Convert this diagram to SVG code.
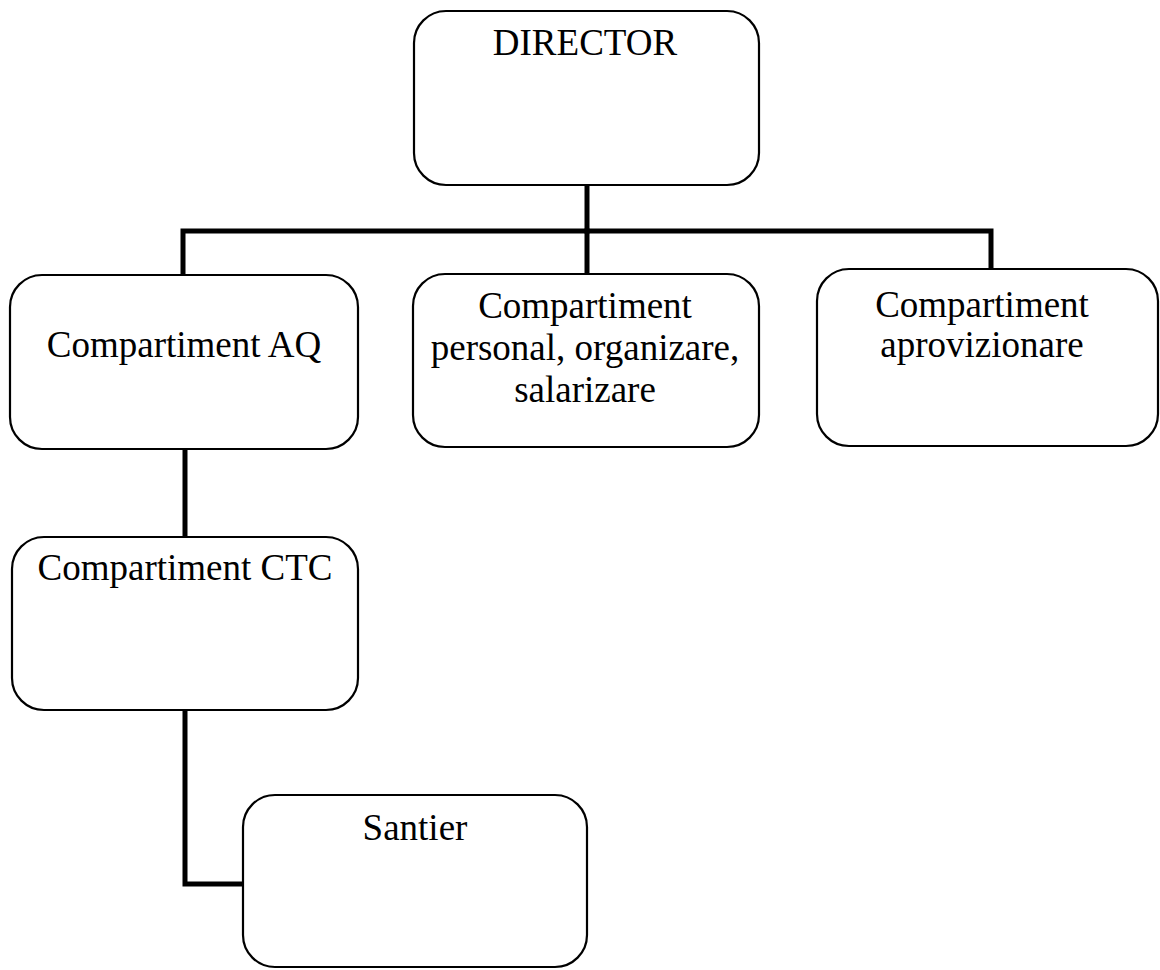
<svg xmlns="http://www.w3.org/2000/svg" width="1160" height="970" viewBox="0 0 1160 970">
  <style>
    .box { fill: #ffffff; stroke: #000000; stroke-width: 2.2; }
    .lbl { font-size: 37px; fill: #000000; text-anchor: middle; }
    .wire { fill: none; stroke: #000000; stroke-width: 5; stroke-linejoin: miter; stroke-linecap: square; }
  </style>
  <rect width="1160" height="970" fill="#ffffff"/>

  <!-- connectors -->
  <g id="connectors">
    <path class="wire" d="M587,186 V231"/>
    <path class="wire" d="M183,273 V231 H991 V268"/>
    <path class="wire" d="M587,231 V273"/>
    <path class="wire" d="M185,449 V536"/>
    <path class="wire" d="M185,711 V884 H242"/>
  </g>

  <g font-family="Liberation Serif, Tinos, Times New Roman, DejaVu Serif, serif">
    <g id="director">
      <rect class="box" x="414" y="11" width="345" height="174" rx="32" ry="32"/>
      <text class="lbl" x="585" y="55">DIRECTOR</text>
    </g>

    <g id="comp-aq">
      <rect class="box" x="10" y="275" width="348" height="174" rx="32" ry="32"/>
      <text class="lbl" x="184" y="357">Compartiment AQ</text>
    </g>

    <g id="comp-personal">
      <rect class="box" x="413" y="274" width="346" height="173" rx="32" ry="32"/>
      <text class="lbl" x="585" y="318">Compartiment</text>
      <text class="lbl" x="585" y="360">personal, organizare,</text>
      <text class="lbl" x="585" y="402">salarizare</text>
    </g>

    <g id="comp-aprovizionare">
      <rect class="box" x="817" y="269" width="341" height="177" rx="32" ry="32"/>
      <text class="lbl" x="982" y="317">Compartiment</text>
      <text class="lbl" x="982" y="357">aprovizionare</text>
    </g>

    <g id="comp-ctc">
      <rect class="box" x="12" y="537" width="346" height="173" rx="32" ry="32"/>
      <text class="lbl" x="185" y="580">Compartiment CTC</text>
    </g>

    <g id="santier">
      <rect class="box" x="243" y="795" width="344" height="172" rx="32" ry="32"/>
      <text class="lbl" x="415" y="840">Santier</text>
    </g>
  </g>
</svg>
